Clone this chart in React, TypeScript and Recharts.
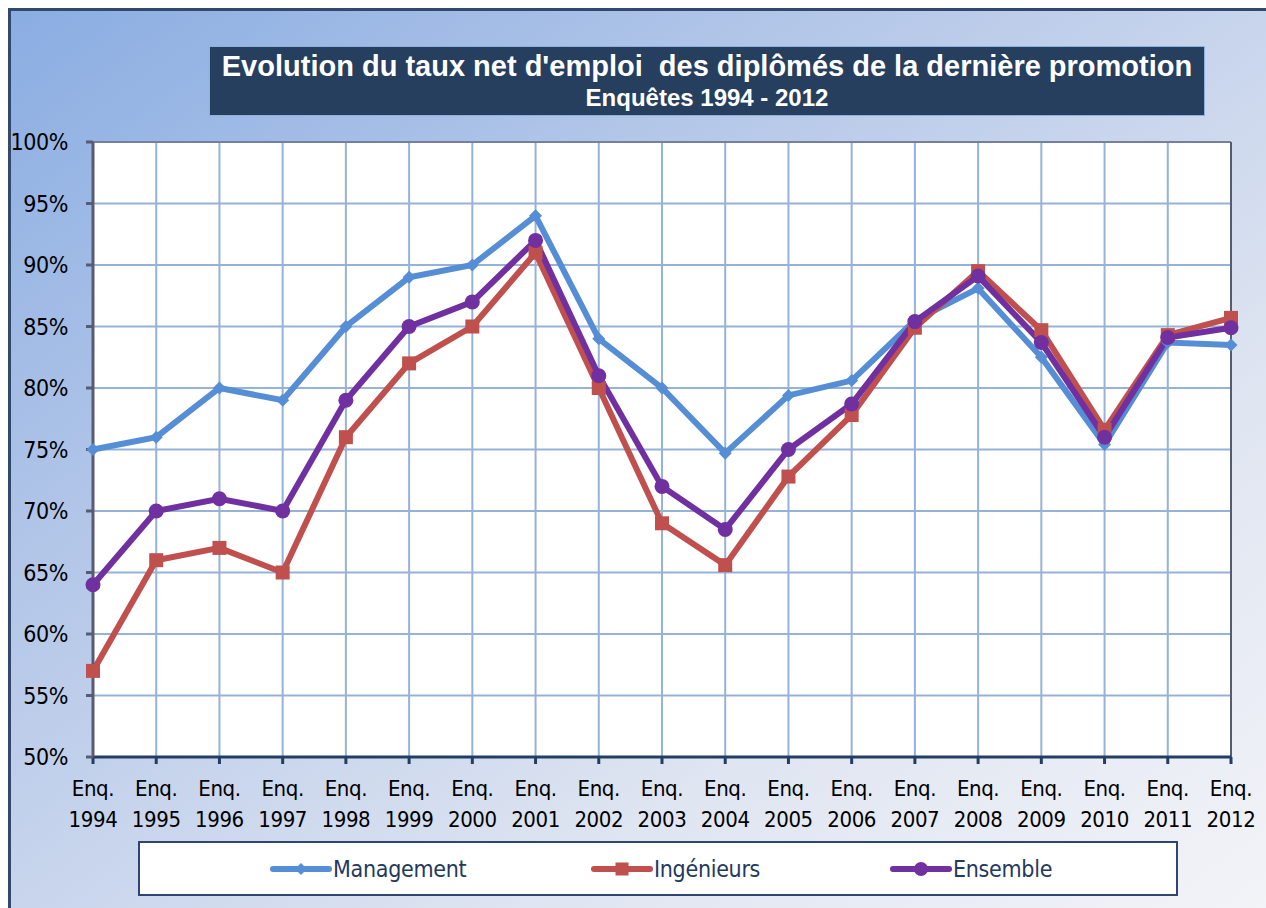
import { LineChart, Line, XAxis, YAxis, CartesianGrid, ReferenceLine } from "recharts"

const years = ["1994", "1995", "1996", "1997", "1998", "1999", "2000", "2001", "2002", "2003", "2004", "2005", "2006", "2007", "2008", "2009", "2010", "2011", "2012"]
const management = [75, 76, 80, 79, 85, 89, 90, 94, 84, 80, 74.7, 79.4, 80.6, 85.5, 88.1, 82.5, 75.4, 83.7, 83.5]
const ingenieurs = [57, 66, 67, 65, 76, 82, 85, 91, 80, 69, 65.6, 72.8, 77.8, 84.9, 89.5, 84.7, 76.6, 84.3, 85.7]
const ensemble = [64, 70, 71, 70, 79, 85, 87, 92, 81, 72, 68.5, 75, 78.7, 85.4, 89.1, 83.7, 76, 84.1, 84.9]
const yTicks = [50, 55, 60, 65, 70, 75, 80, 85, 90, 95, 100]

const data = years.map((y, i) => ({
  year: y,
  management: management[i],
  ingenieurs: ingenieurs[i],
  ensemble: ensemble[i],
}))

const NARROW = '"Liberation Sans Narrow", "Arial Narrow", "DejaVu Sans Condensed", sans-serif'
const BLUE = "#558ed5"
const RED = "#c0504d"
const PURPLE = "#7030a0"

const Diamond = (props: any) => {
  const { cx, cy, key } = props
  if (cx == null || cy == null) return <g key={key} />
  return <path key={key} d={`M${cx},${cy - 6.5}L${cx + 6.5},${cy}L${cx},${cy + 6.5}L${cx - 6.5},${cy}Z`} fill={BLUE} />
}

const Square = (props: any) => {
  const { cx, cy, key } = props
  if (cx == null || cy == null) return <g key={key} />
  return <rect key={key} x={cx - 7} y={cy - 7} width={14} height={14} fill={RED} />
}

const Circle = (props: any) => {
  const { cx, cy, key } = props
  if (cx == null || cy == null) return <g key={key} />
  return <circle key={key} cx={cx} cy={cy} r={7.5} fill={PURPLE} />
}

const XTick = ({ x, y, payload }: any) => (
  <text x={x} y={y} textAnchor="middle" fontFamily={NARROW} fontSize={22} letterSpacing={-0.4} fill="#000">
    <tspan x={x} dy={30}>Enq.</tspan>
    <tspan x={x} dy={31}>{payload.value}</tspan>
  </text>
)

function LegendItem({ color, marker, label, left, width }: any) {
  return (
    <div style={{ position: "absolute", left, top: 0, height: 52, display: "flex", alignItems: "center" }}>
      <svg width={width} height={20} style={{ display: "block" }}>
        <line x1={3} y1={10} x2={width - 3} y2={10} stroke={color} strokeWidth={6} strokeLinecap="round" />
        {marker === "diamond" && <path d={`M${width / 2},4L${width / 2 + 6},10L${width / 2},16L${width / 2 - 6},10Z`} fill={color} />}
        {marker === "square" && <rect x={width / 2 - 6.5} y={3.5} width={13} height={13} fill={color} />}
        {marker === "circle" && <circle cx={width / 2} cy={10} r={7} fill={color} />}
      </svg>
      <span style={{ fontFamily: NARROW, fontSize: 23, letterSpacing: -0.3, color: "#233a5e", marginLeft: 1 }}>{label}</span>
    </div>
  )
}

export default function App() {
  return (
    <div style={{ position: "absolute", left: 0, top: 0, width: 1266, height: 908, overflow: "hidden" }}>
      <div
        style={{
          position: "absolute",
          left: 8,
          top: 8,
          width: 1270,
          height: 910,
          border: "3px solid #33496c",
          boxSizing: "border-box",
          background: "linear-gradient(to bottom right, #8aade2 0%, #b7c9e9 35%, #dfe5f1 70%, #f3f4f8 100%)",
        }}
      />
      <div
        style={{
          position: "absolute",
          left: 209,
          top: 46,
          width: 996,
          height: 70,
          background: "#263f5f",
          border: "1px solid #8fb0dd",
          boxSizing: "border-box",
          color: "#fff",
          fontFamily: "Arial, 'Liberation Sans', sans-serif",
          fontWeight: "bold",
          textAlign: "center",
        }}
      >
        <div style={{ fontSize: 29, lineHeight: "32px", marginTop: 3, whiteSpace: "pre" }}>
          Evolution du taux net d'emploi  des diplômés de la dernière promotion
        </div>
        <div style={{ fontSize: 24, lineHeight: "28px", marginTop: 2, whiteSpace: "pre" }}>Enquêtes 1994 - 2012</div>
      </div>
      <div style={{ position: "absolute", left: 0, top: 0 }}>
        <LineChart width={1266} height={908} data={data} margin={{ top: 142, right: 35, bottom: 81, left: 28 }}>
          <CartesianGrid fill="#ffffff" stroke="#95b3d7" strokeWidth={2} />
          <XAxis
            dataKey="year"
            scale="point"
            padding={{ left: 0, right: 0 }}
            height={70}
            interval={0}
            tick={<XTick />}
            tickSize={7}
            axisLine={{ stroke: "#233e64", strokeWidth: 3 }}
            tickLine={{ stroke: "#233e64", strokeWidth: 3 }}
          />
          <YAxis
            width={65}
            domain={[50, 100]}
            ticks={yTicks}
            interval={0}
            tickFormatter={(v: number) => `${v}%`}
            tickSize={7}
            tickMargin={18}
            tick={{ fontFamily: NARROW, fontSize: 23, letterSpacing: -0.4, fill: "#000" }}
            axisLine={{ stroke: "#595a73", strokeWidth: 3 }}
            tickLine={{ stroke: "#595a73", strokeWidth: 3 }}
          />
          <ReferenceLine y={100} stroke="#6b6f8e" strokeWidth={1.5} />
          <ReferenceLine x="2012" stroke="#595a73" strokeWidth={2} />
          <Line dataKey="management" stroke={BLUE} strokeWidth={6} dot={Diamond} activeDot={false} isAnimationActive={false} />
          <Line dataKey="ingenieurs" stroke={RED} strokeWidth={6} dot={Square} activeDot={false} isAnimationActive={false} />
          <Line dataKey="ensemble" stroke={PURPLE} strokeWidth={6} dot={Circle} activeDot={false} isAnimationActive={false} />
        </LineChart>
      </div>
      <div
        style={{
          position: "absolute",
          left: 138,
          top: 841,
          width: 1040,
          height: 55,
          background: "#fff",
          border: "2px solid #2d4570",
          boxSizing: "border-box",
        }}
      >
        <LegendItem color={BLUE} marker="diamond" label="Management" left={130} width={62} />
        <LegendItem color={RED} marker="square" label="Ingénieurs" left={451} width={62} />
        <LegendItem color={PURPLE} marker="circle" label="Ensemble" left={750} width={62} />
      </div>
    </div>
  )
}
